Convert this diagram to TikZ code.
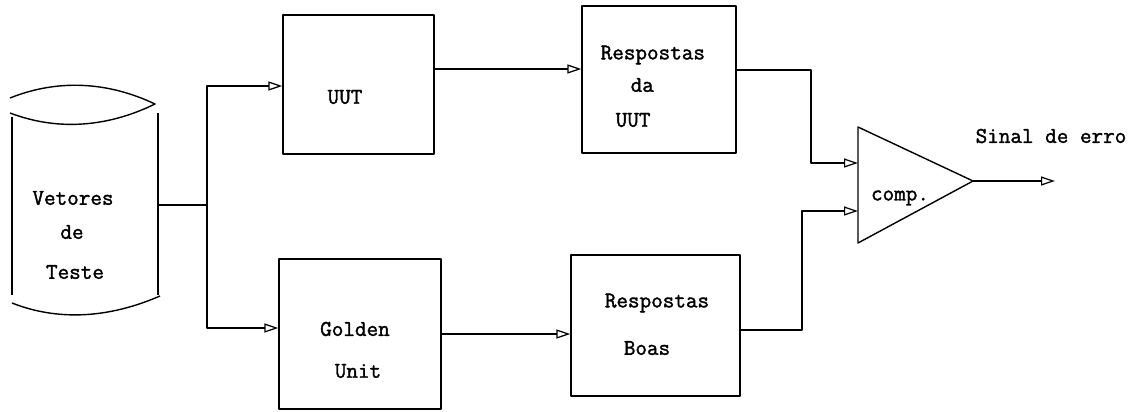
\documentclass[tikz,border=0pt]{standalone}
\usepackage{fontspec}
\newfontfamily\typefont{Latin Modern Mono}[FakeBold=1.6]
\usetikzlibrary{arrows.meta,calc}
\begin{document}
\begin{tikzpicture}[x=1pt,y=-1pt,
  line width=1.4pt, line join=round,
  arr/.style={-{Triangle[open,length=14pt,width=9pt,line width=1.2pt]}},
  blk/.style={draw,rectangle,inner sep=0pt},
  lbl/.style={inner sep=0pt,font=\fontsize{22.5}{26}\typefont\bfseries}]
\useasboundingbox (0,0) rectangle (1132,412);

% punched-tape store of test vectors
\draw (10,98) .. controls (50,82) and (100,78) .. (155,104)
      .. controls (110,126) and (60,132) .. (10,113);
\draw (12,117) -- (12,295);
\draw (158,113) -- (158,295);
\draw (12,303) .. controls (50,318) and (100,322) .. (160,296);
\coordinate (tape) at (158,205);
\node[lbl] (t1) at (73,198) {Vetores};
\node[lbl] (t2) at (72,232) {de};
\node[lbl] (t3) at (75,272) {Teste};

% blocks
\node[blk,minimum width=151pt,minimum height=139pt] (uut)   at (358.5,84.5) {};
\node[blk,minimum width=154pt,minimum height=147pt] (rda)   at (659,79.5) {};
\node[blk,minimum width=162pt,minimum height=150pt] (gold)  at (360,334) {};
\node[blk,minimum width=169pt,minimum height=141pt] (rboas) at (655.5,325.5) {};

\node[lbl] (uutl) at (345,97) {UUT};
\node[lbl,anchor=west] (r1) at (600,55) {Respostas};
\node[lbl,anchor=west] (r2) at (630,85) {da};
\node[lbl,anchor=west] (r3) at (615,120) {UUT};
\node[lbl] (g1) at (355,329) {Golden};
\node[lbl] (g2) at (358,371) {Unit};
\node[lbl] (b1) at (657,303) {Respostas};
\node[lbl] (b2) at (647,348) {Boas};

% comparator
\coordinate (ctop) at (858,127);
\coordinate (cbot) at (858,243);
\coordinate (capex) at (973,181);
\draw (ctop) -- (capex) -- (cbot) -- cycle;
\node[lbl] (cl) at (900,198) {comp.};
\node[lbl] (sig) at (1051,136) {Sinal de erro};
\coordinate (out) at (1055,181);

% fan-out of the test vectors
\coordinate (j) at (207,205);
\draw (tape) -- (j);
\draw[arr] (j) |- (uut.west |- 0,86);
\draw[arr] (j) |- (gold.west |- 0,328);

% responses
\draw[arr] (uut.east |- 0,69) -- (rda.west |- 0,69);
\draw[arr] (gold.east |- 0,334) -- (rboas.west |- 0,334);

% into the comparator
\draw[arr] (rda.east |- 0,70) -| (811,163) -- (ctop |- 0,163);
\draw[arr] (rboas.east |- 0,330) -| (802,211) -- (ctop |- 0,211);

% error signal
\draw[arr] (capex) -- (out);
\end{tikzpicture}
\end{document}
